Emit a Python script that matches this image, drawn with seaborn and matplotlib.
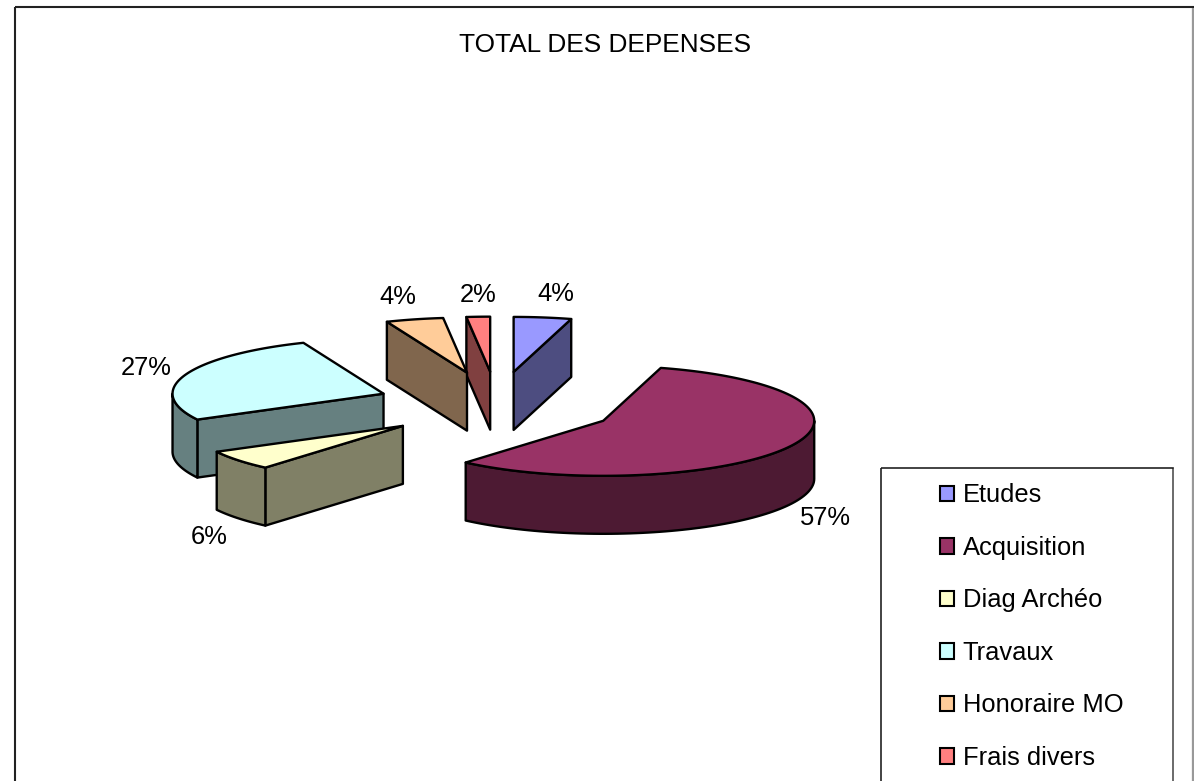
import numpy as np
import seaborn as sns
import matplotlib.pyplot as plt
from matplotlib.patches import Patch, Rectangle

# Data
categories = ["Etudes", "Acquisition", "Diag Archéo", "Travaux", "Honoraire MO", "Frais divers"]
shares = [4.4, 56.9, 5.9, 26.6, 4.4, 1.8]
slice_colors = ["#9999FF", "#993366", "#FFFFCC", "#CCFFFF", "#FFCC99", "#FF8080"]
title = "TOTAL DES DEPENSES"

# Fake 3D pie geometry, in image pixels
center = (497, 405)
radius = (211, 55)
explode = (120.6, 33.4)
depth = 58
# label offset from the middle of each slice's arc
label_nudge = [(13, -23), (36, 71), (-29, 77), (-39, -7), (-17, -22), (0, -22)]

sns.set_theme(style="white")
plt.rcParams["font.family"] = ["Liberation Sans", "DejaVu Sans"]
palette = sns.color_palette(slice_colors)
FONT = 18.4
LW = 1.7

fig, ax = plt.subplots(figsize=(11.94, 7.81), dpi=100)
ax.set_position([0, 0, 1, 1])
ax.set_xlim(0, 1194)
ax.set_ylim(781, 0)
ax.axis("off")


def rim(apex, deg):
    t = np.radians(deg)
    return apex[0] + radius[0] * np.sin(t), apex[1] - radius[1] * np.cos(t)


def wall(xs, ys, color, order):
    xs = np.asarray(xs)
    ys = np.asarray(ys)
    ax.fill(np.r_[xs, xs[::-1]], np.r_[ys, ys[::-1] + depth], facecolor=color,
            edgecolor="black", lw=LW, joinstyle="round", zorder=order)


# Angles run clockwise from 12 o'clock
edges = np.r_[0, np.cumsum(shares)] / np.sum(shares) * 360
slices = []
for i, name in enumerate(categories):
    start, end = edges[i], edges[i + 1]
    mid = np.radians((start + end) / 2)
    apex = (center[0] + explode[0] * np.sin(mid), center[1] - explode[1] * np.cos(mid))
    slices.append((apex[1], i, start, end, apex))

# Back slices first, so the front ones cover them
for order, (_, i, start, end, apex) in enumerate(sorted(slices, key=lambda s: s[0])):
    z = 3 + order
    face = palette[i]
    side = tuple(0.5 * c for c in face)

    if start > 180:
        x, y = rim(apex, start)
        wall([apex[0], x], [apex[1], y], side, z)
    if end < 180:
        x, y = rim(apex, end)
        wall([apex[0], x], [apex[1], y], side, z)
    lo, hi = max(start, 90), min(end, 270)
    if lo < hi:
        x, y = rim(apex, np.linspace(lo, hi, 80))
        wall(x, y, side, z)

    x, y = rim(apex, np.linspace(start, end, 120))
    ax.fill(np.r_[apex[0], x], np.r_[apex[1], y], facecolor=face,
            edgecolor="black", lw=LW, joinstyle="round", zorder=z)

    lx, ly = rim(apex, (start + end) / 2)
    ax.text(lx + label_nudge[i][0], ly + label_nudge[i][1], f"{shares[i]:.0f}%",
            ha="center", va="center", fontsize=FONT, color="black", zorder=20)

# Chart frame, cut off by the bottom of the image; right side is lighter
ax.add_patch(Rectangle((14.5, 6.5), 1178, 800, fill=False, edgecolor="#222222", lw=1.5, zorder=1))
ax.vlines(1192.5, 8, 781, color="#999999", lw=1.5, zorder=2)
ax.text(605, 45, title, ha="center", va="center", fontsize=18.9, color="black")

# Legend box also runs off the image
ax.add_patch(Rectangle((880.5, 468), 292, 340, fill=False, edgecolor="#222222", lw=1.2, zorder=1))
ax.vlines(1172.5, 469, 781, color="#777777", lw=1.2, zorder=2)
handles = [Patch(facecolor=c, edgecolor="black", lw=1.5) for c in palette]
ax.legend(handles, categories, loc="upper left", bbox_to_anchor=(940 / 1194, 1 - 483.5 / 781),
          frameon=False, fontsize=FONT, borderpad=0, borderaxespad=0, handlelength=0.56,
          handleheight=0.56, handletextpad=0.33, labelspacing=1.115, labelcolor="black")

fig.savefig("out.png", dpi=100)
